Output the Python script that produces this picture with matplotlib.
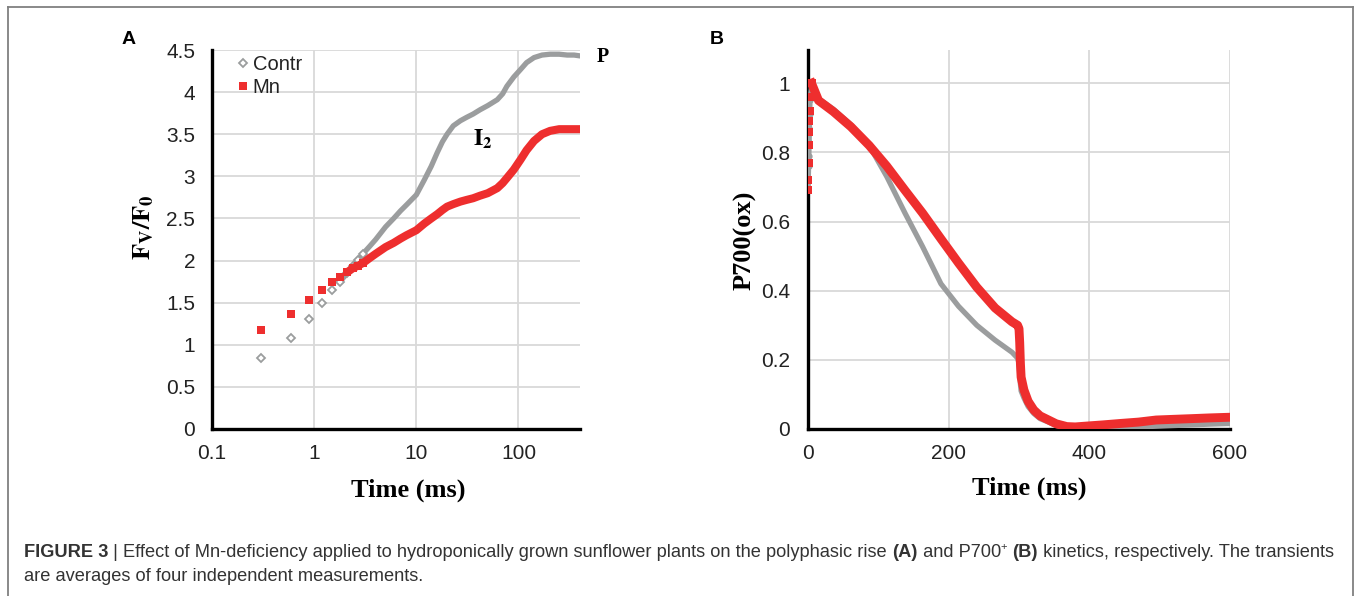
import matplotlib
matplotlib.use("Agg")
import matplotlib.pyplot as plt
from matplotlib.lines import Line2D
import numpy as np

plt.rcParams['mathtext.fontset'] = 'stix'

# ---------------- Data: panel A (OJIP rise, log time) ----------------
time_a = [0.3, 0.6, 0.9, 1.2, 1.5, 1.8, 2.1, 2.4, 2.7, 3.0, 3.5, 4, 5, 6, 7, 8,
          10, 12, 14, 16, 18, 20, 23, 27, 31, 36, 42, 50, 62, 70, 77, 90,
          105, 120, 142, 170, 204, 250, 300, 350, 400]
contr_a = [0.84, 1.08, 1.31, 1.50, 1.65, 1.75, 1.85, 1.94, 2.01, 2.08, 2.17, 2.25,
           2.40, 2.50, 2.59, 2.66, 2.78, 2.96, 3.12, 3.28, 3.41, 3.50, 3.60, 3.66,
           3.70, 3.74, 3.79, 3.84, 3.91, 3.98, 4.07, 4.18, 4.27, 4.35, 4.41, 4.44,
           4.45, 4.45, 4.44, 4.44, 4.43]
mn_a = [1.17, 1.37, 1.53, 1.65, 1.74, 1.80, 1.86, 1.91, 1.94, 1.97, 2.03, 2.08,
        2.16, 2.21, 2.26, 2.30, 2.36, 2.44, 2.50, 2.55, 2.60, 2.64, 2.67, 2.70,
        2.72, 2.74, 2.77, 2.80, 2.86, 2.92, 2.98, 3.08, 3.20, 3.31, 3.42, 3.50,
        3.54, 3.56, 3.56, 3.56, 3.56]
xticks_a = [0.1, 1, 10, 100]
xticklabels_a = ["0.1", "1", "10", "100"]
yticks_a = [0, 0.5, 1, 1.5, 2, 2.5, 3, 3.5, 4, 4.5]
yticklabels_a = ["0", "0.5", "1", "1.5", "2", "2.5", "3", "3.5", "4", "4.5"]

# ---------------- Data: panel B (P700 kinetics, linear time) ----------------
time_b = [0, 0.4, 0.8, 1.2, 1.6, 2.0, 2.4, 2.8, 5, 15, 36, 61, 87, 112, 138, 163,
          189, 214, 240, 266, 290, 298, 300, 301, 302, 303, 307, 313, 321, 330,
          342, 353, 368, 380, 393, 420, 444, 470, 495, 520, 546, 570, 600]
contr_b = [0.69, 0.72, 0.76, 0.79, 0.83, 0.87, 0.91, 0.95, 0.99, 0.955, 0.925, 0.88,
           0.82, 0.73, 0.624, 0.527, 0.42, 0.355, 0.30, 0.257, 0.222, 0.205, 0.19,
           0.16, 0.13, 0.11, 0.09, 0.065, 0.045, 0.03, 0.02, 0.01, 0.004, 0.002,
           0.003, 0.004, 0.005, 0.006, 0.008, 0.010, 0.012, 0.014, 0.016]
mn_b = [0.69, 0.72, 0.77, 0.82, 0.86, 0.89, 0.92, 0.96, 1.00, 0.95, 0.918, 0.874,
        0.82, 0.76, 0.69, 0.624, 0.55, 0.48, 0.41, 0.35, 0.31, 0.30, 0.29, 0.25,
        0.19, 0.15, 0.113, 0.08, 0.055, 0.038, 0.026, 0.015, 0.007, 0.006, 0.008,
        0.012, 0.016, 0.020, 0.026, 0.028, 0.030, 0.032, 0.034]
xticks_b = [0, 200, 400, 600]
yticks_b = [0, 0.2, 0.4, 0.6, 0.8, 1]
yticklabels_b = ["0", "0.2", "0.4", "0.6", "0.8", "1"]

series_names = ["Contr", "Mn"]

GRAY = "#9b9d9e"
RED = "#ee2e2e"
GRID = "#d9d9d9"
SANS = "Liberation Sans"
SERIF = "Liberation Serif"

W, H = 1357, 596
fig = plt.figure(figsize=(W / 100, H / 100), dpi=100)


def fx(px):
    return px / W


def fy(py):
    return 1 - py / H


def style_axes(ax):
    for s in ["top", "right"]:
        ax.spines[s].set_visible(False)
    for s in ["left", "bottom"]:
        ax.spines[s].set_linewidth(2.4)
        ax.spines[s].set_color("black")
    ax.grid(True, color=GRID, linewidth=1.3)
    ax.set_axisbelow(True)
    ax.tick_params(length=0, labelsize=15, colors="#222222")
    for lab in ax.get_xticklabels() + ax.get_yticklabels():
        lab.set_fontfamily(SANS)


# ---------------- Panel A ----------------
axA = fig.add_axes([fx(212), fy(429), fx(580 - 212), (429 - 50) / H])
axA.set_xscale("log")
axA.set_xlim(0.1, 400)
axA.set_ylim(0, 4.5)
ta = np.array(time_a)
ca = np.array(contr_a)
ma = np.array(mn_a)
dense_c = ta >= 1.8
dense_m = ta >= 2.1
axA.plot(ta[dense_c], ca[dense_c], color=GRAY, lw=3.8, solid_capstyle="round",
         solid_joinstyle="round", zorder=3)
axA.plot(ta[ta <= 3.0], ca[ta <= 3.0], ls="none", marker="D", ms=4.2,
         mfc="white", mec=GRAY, mew=1.3, zorder=3)
axA.plot(ta[dense_m], ma[dense_m], color=RED, lw=5.8, solid_capstyle="butt",
         solid_joinstyle="round", zorder=4)
axA.plot(ta[ta <= 3.0], ma[ta <= 3.0], ls="none", marker="s", ms=6.4,
         mfc=RED, mec=RED, mew=0, zorder=4)
axA.set_xticks(xticks_a)
axA.set_xticklabels(xticklabels_a)
axA.xaxis.set_minor_locator(matplotlib.ticker.NullLocator())
axA.set_yticks(yticks_a)
axA.set_yticklabels(yticklabels_a)
style_axes(axA)
axA.tick_params(axis="y", pad=12)
axA.tick_params(axis="x", pad=11)

leg_handles = [Line2D([], [], ls="none", marker="D", ms=4.2, mfc="white", mec=GRAY, mew=1.3),
               Line2D([], [], ls="none", marker="s", ms=6.4, mfc=RED, mec=RED, mew=0)]
leg = axA.legend(leg_handles, series_names, loc="upper left",
                 bbox_to_anchor=(0.045, 1.008), frameon=False, handlelength=0.6,
                 handletextpad=0.2, labelspacing=0.22, borderaxespad=0,
                 prop={"family": SANS, "size": 14.5})
for t in leg.get_texts():
    t.set_color("#222222")

fig.text(fx(408), fy(490), "Time (ms)", fontfamily=SERIF, fontweight="bold",
         fontsize=19, ha="center", va="center")
fig.text(fx(143), fy(227), r"$\mathbf{F_V/F_0}$", fontsize=19, rotation=90,
         ha="center", va="center")

fig.text(fx(597), fy(57), "P", fontfamily=SERIF, fontweight="bold", fontsize=14.5,
         ha="left", va="center")
fig.text(fx(473), fy(139), r"$\mathbf{I_2}$", fontsize=17, ha="left", va="center")
fig.text(fx(122), fy(40), "A", fontfamily=SANS, fontweight="bold", fontsize=14,
         ha="left", va="center")

# ---------------- Panel B ----------------
axB = fig.add_axes([fx(808), fy(429), fx(1230 - 808), (429 - 50) / H])
axB.set_xlim(0, 600)
axB.set_ylim(0, 1.096)
tb = np.array(time_b)
cb = np.array(contr_b)
mb = np.array(mn_b)
axB.plot(tb, cb, color=GRAY, lw=3.8, solid_joinstyle="round", zorder=3)
axB.plot(tb[:9], cb[:9], ls="none", marker="o", ms=3.5, color=GRAY, zorder=3)
axB.plot(tb[8:], mb[8:], color=RED, lw=6.4, solid_joinstyle="round", zorder=4)
axB.plot(tb[:9], mb[:9], ls="none", marker="s", ms=6.2, mfc=RED, mec=RED, mew=0, zorder=4)
axB.set_xticks(xticks_b)
axB.set_xticklabels([str(v) for v in xticks_b])
axB.set_yticks(yticks_b)
axB.set_yticklabels(yticklabels_b)
style_axes(axB)
axB.tick_params(axis="y", pad=13)
axB.tick_params(axis="x", pad=11)
fig.text(fx(1029), fy(488), "Time (ms)", fontfamily=SERIF, fontweight="bold",
         fontsize=19, ha="center", va="center")
fig.text(fx(745), fy(240), "P700(ox)", fontfamily=SERIF, fontweight="bold",
         fontsize=19, rotation=90, ha="center", va="center")
fig.text(fx(710), fy(40), "B", fontfamily=SANS, fontweight="bold", fontsize=14,
         ha="left", va="center")

# ---------------- Frame ----------------
fc = "#808080"
fig.add_artist(Line2D([fx(8), fx(8)], [fy(7), 0], transform=fig.transFigure, color=fc, lw=1.3))
fig.add_artist(Line2D([fx(1353), fx(1353)], [fy(7), 0], transform=fig.transFigure, color=fc, lw=1.3))
fig.add_artist(Line2D([fx(8), fx(1353)], [fy(7), fy(7)], transform=fig.transFigure, color=fc, lw=1.3))

# ---------------- Caption ----------------
renderer = fig.canvas.get_renderer()
CAP = "#333333"
cap_size = 13.15


def write_line(pieces, x_px, y_px):
    x = x_px
    for txt, weight, kind in pieces:
        size = cap_size * (0.62 if kind == "sup" else 1.0)
        yy = y_px - (7 if kind == "sup" else 0)
        t = fig.text(fx(x), fy(yy), txt, fontfamily=SANS, fontweight=weight,
                     fontsize=size, color=CAP, ha="left", va="baseline")
        x += t.get_window_extent(renderer).width


line1 = [("FIGURE 3", "bold", "n"), (" | ", "normal", "n"),
         ("Effect of Mn-deficiency applied to hydroponically grown sunflower plants on the polyphasic rise ",
          "normal", "n"),
         ("(A)", "bold", "n"), (" and P700", "normal", "n"), ("+", "normal", "sup"),
         (" ", "normal", "n"), ("(B)", "bold", "n"),
         (" kinetics, respectively. The transients", "normal", "n")]
line2 = [("are averages of four independent measurements.", "normal", "n")]
write_line(line1, 24, 557)
write_line(line2, 24, 581)

fig.savefig("out.png", dpi=100)
